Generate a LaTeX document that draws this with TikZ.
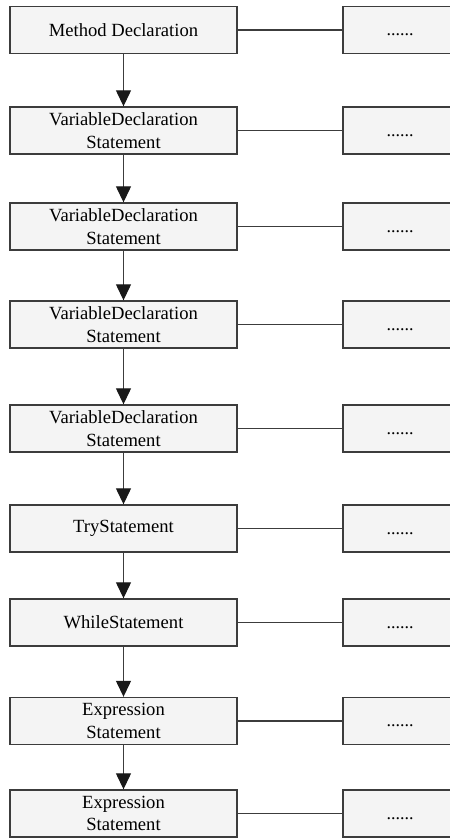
\documentclass[tikz,border=0pt]{standalone}
\usepackage{fontspec}
\setmainfont{Liberation Serif}
\usetikzlibrary{arrows.meta}
\definecolor{boxfill}{HTML}{F4F4F4}
\definecolor{edge}{HTML}{3C3C3C}
\begin{document}
\begin{tikzpicture}[x=1pt,y=-1pt,
  lbox/.style={draw=edge,line width=1.4pt,fill=boxfill,rectangle,minimum width=227pt,minimum height=47pt,inner sep=0pt,align=center,font=\fontsize{18.6}{22.5}\selectfont},
  rbox/.style={draw=edge,line width=1.4pt,fill=boxfill,rectangle,minimum width=114pt,minimum height=47pt,inner sep=0pt,align=center,font=\fontsize{18}{22.5}\selectfont},
  link/.style={draw=edge,line width=1.1pt},
  flow/.style={draw=edge,line width=1.3pt,-{Triangle[width=15pt,length=16pt,color=black!90]}}]
\useasboundingbox (0,0) rectangle (450,839);
\clip (0,0) rectangle (450,839);
\fill[white] (0,0) rectangle (450,839);
\node[lbox] (l1) at (123.5,30) {Method Declaration};
\node[lbox] (l2) at (123.5,130.5) {VariableDeclaration\\Statement};
\node[lbox] (l3) at (123.5,226.5) {VariableDeclaration\\Statement};
\node[lbox] (l4) at (123.5,324.5) {VariableDeclaration\\Statement};
\node[lbox] (l5) at (123.5,428.5) {VariableDeclaration\\Statement};
\node[lbox] (l6) at (123.5,528.5) {TryStatement};
\node[lbox] (l7) at (123.5,622.5) {WhileStatement};
\node[lbox] (l8) at (123.5,721) {Expression\\Statement};
\node[lbox] (l9) at (123.5,813.5) {Expression\\Statement};
\foreach \i/\y in {1/30,2/130.5,3/226.5,4/324.5,5/428.5,6/528.5,7/622.5,8/721,9/813.5}{
  \node[rbox] (r\i) at (400,\y) {\vphantom{M}......};
  \draw[link] (l\i.east) -- (r\i.west);
}
\foreach \a/\b in {1/2,2/3,3/4,4/5,5/6,6/7,7/8,8/9}{
  \draw[flow] (l\a.south) -- (l\b.north);
}
\end{tikzpicture}
\end{document}
